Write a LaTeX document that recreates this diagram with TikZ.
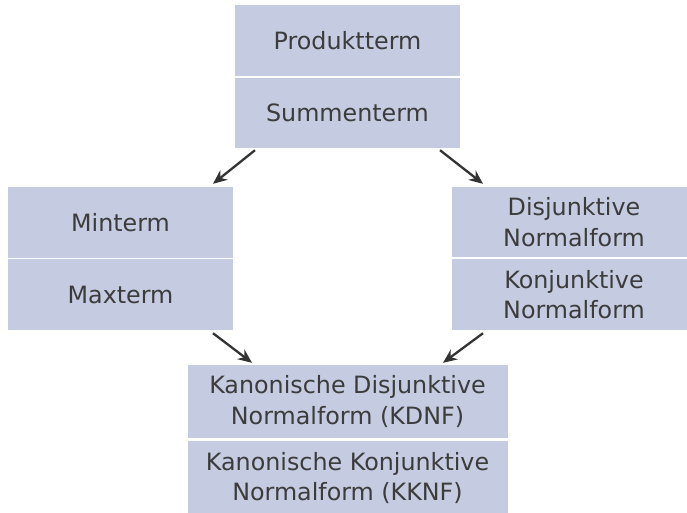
\documentclass[tikz,border=0pt]{standalone}
\usepackage{fontspec}
\setmainfont{DejaVu Sans}
\usetikzlibrary{arrows.meta}
\definecolor{boxfill}{HTML}{C5CBE0}
\definecolor{txt}{HTML}{3C3C3C}
\definecolor{arrowc}{HTML}{333333}
\tikzset{
  cell/.style={rectangle, fill=boxfill, text=txt, inner sep=0pt, align=center,
    font=\fontsize{23.8}{30.5}\selectfont},
  arr/.style={draw=arrowc, line width=2.3pt, -{Stealth[length=14pt,width=12pt]}}
}
\begin{document}
\begin{tikzpicture}[x=1pt,y=-1pt]
\useasboundingbox (0,0) rectangle (687,512);
\begin{scope}
\clip (0,0) rectangle (687,512);
\node[cell, minimum width=225pt, minimum height=71pt] (prod) at (347.5,40.5) {Produktterm};
\node[cell, minimum width=225pt, minimum height=70pt] (summ) at (347.5,113) {Summenterm};
\node[cell, minimum width=225pt, minimum height=71pt] (minterm) at (120.5,222.5) {Minterm};
\node[cell, minimum width=225pt, minimum height=71pt] (maxterm) at (120.5,294.5) {Maxterm};
\node[cell, minimum width=244pt, minimum height=70pt] (dnf) at (574,222) {Disjunktive\\Normalform};
\node[cell, minimum width=244pt, minimum height=71pt] (knf) at (574,294.5) {Konjunktive\\Normalform};
\node[cell, minimum width=320pt, minimum height=73pt] (kdnf) at (347.5,401.5) {Kanonische Disjunktive\\Normalform (KDNF)};
\node[cell, minimum width=320pt, minimum height=74pt] (kknf) at (347.5,478) {Kanonische Konjunktive\\Normalform (KKNF)};
\end{scope}
\draw[arr] ([xshift=-92.5pt,yshift=-2pt]summ.south) -- ([xshift=92.5pt,yshift=3pt]minterm.north);
\draw[arr] ([xshift=92.5pt,yshift=-2pt]summ.south) -- ([xshift=-91pt,yshift=3pt]dnf.north);
\draw[arr] ([xshift=92.5pt,yshift=-3pt]maxterm.south) -- ([xshift=-95.5pt,yshift=2pt]kdnf.north);
\draw[arr] ([xshift=-91pt,yshift=-3pt]knf.south) -- ([xshift=95.5pt,yshift=2pt]kdnf.north);
\end{tikzpicture}
\end{document}
